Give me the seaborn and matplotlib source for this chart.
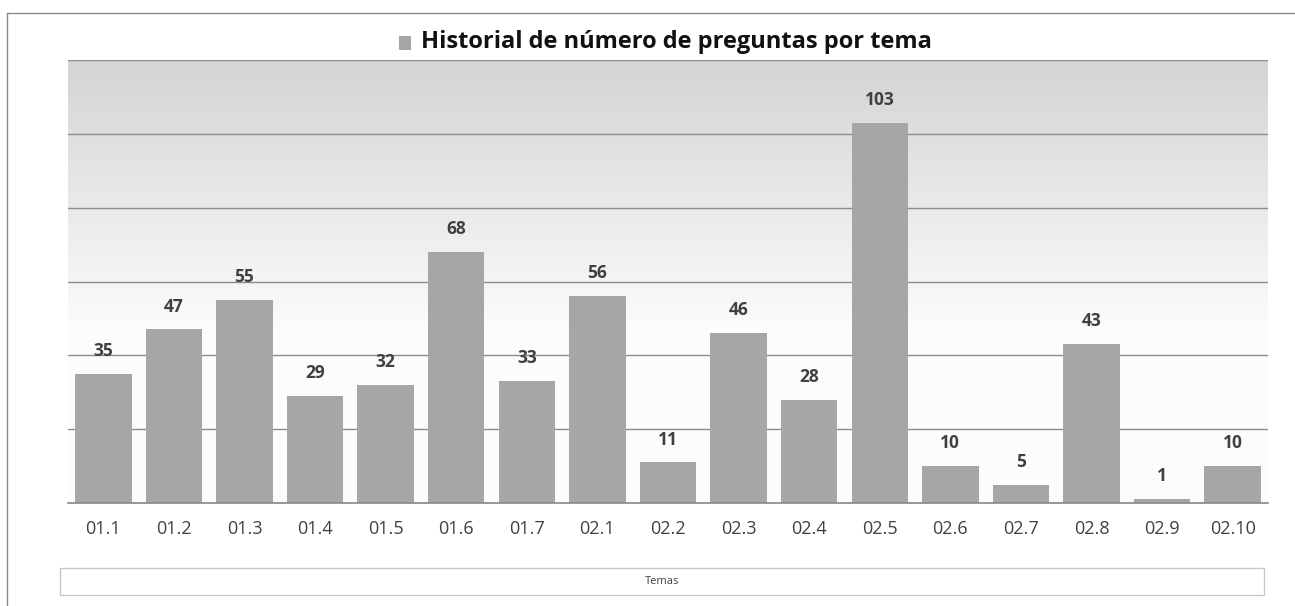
import matplotlib
matplotlib.use("Agg")
import matplotlib.pyplot as plt
import seaborn as sns
import numpy as np
import pandas as pd
from matplotlib.patches import Rectangle
from matplotlib.lines import Line2D

temas = ["01.1", "01.2", "01.3", "01.4", "01.5", "01.6", "01.7", "02.1", "02.2",
         "02.3", "02.4", "02.5", "02.6", "02.7", "02.8", "02.9", "02.10"]
preguntas = [35, 47, 55, 29, 32, 68, 33, 56, 11, 46, 28, 103, 10, 5, 43, 1, 10]
title = "Historial de número de preguntas por tema"
xlabel = "Temas"

sns.set_theme(style="white")
plt.rcParams['font.family'] = ['Open Sans', 'DejaVu Sans']

df = pd.DataFrame({"tema": temas, "n": preguntas})

fig = plt.figure(figsize=(12.95, 6.06), dpi=100)
ax = fig.add_axes([68/1295, 1-503/606, 1200/1295, 443/606])

# gradient background (row 0 = top of plot area)
grad = np.linspace(0, 1, 256).reshape(-1, 1)
top_c, bot_c = 0.83, 0.985
vals = top_c + (bot_c - top_c) * np.clip(grad / 0.6, 0, 1)
vals = np.where(grad > 0.6, 0.99, vals)
img = np.dstack([vals, vals, vals])
ax.imshow(img, extent=[-0.5, len(temas) - 0.5, 0, 120], aspect="auto", zorder=0,
          origin="upper")

sns.barplot(data=df, x="tema", y="n", color="#a6a6a6", saturation=1, width=0.8,
            linewidth=0, ax=ax, zorder=3)
ax.set_xlim(-0.5, len(temas) - 0.5)
ax.set_ylim(0, 120)
ax.set_yticks(range(0, 121, 20))
ax.set_yticklabels([])
ax.yaxis.grid(True, color="#8c8c8c", linewidth=1.0)
ax.set_axisbelow(False)
for gl in ax.get_ygridlines():
    gl.set_zorder(1)
for s in ["left", "right", "top"]:
    ax.spines[s].set_visible(False)
ax.spines["bottom"].set_color("#8c8c8c")
ax.spines["bottom"].set_zorder(4)
ax.tick_params(axis="x", length=0, labelsize=13, colors="#404040", pad=12)
ax.tick_params(axis="y", length=0)
ax.set_xlabel("")
ax.set_ylabel("")

for i, v in enumerate(preguntas):
    ax.annotate(str(v), (i, v), xytext=(0, 10), textcoords="offset points",
                ha="center", va="bottom", fontsize=12.5, fontweight="bold",
                color="#404040")

# title with legend marker
fig.text(421/1295, 1-42/606, title, ha="left", va="center", fontsize=17,
         fontweight="bold", color="#111111")
fig.patches.append(Rectangle((399/1295, 1-50/606), 12/1295, 14/606,
                             transform=fig.transFigure, facecolor="#a6a6a6",
                             edgecolor="none"))

# axis title box
fig.patches.append(Rectangle((60/1295, 1-595/606), 1204/1295, 27/606,
                             transform=fig.transFigure, facecolor="white",
                             edgecolor="#c8c8c8", linewidth=1))
fig.text(662/1295, 1-582/606, xlabel, ha="center", va="center", fontsize=8,
         color="#404040")

# outer frame
fig.add_artist(Line2D([7/1295, 1], [1-13/606, 1-13/606], color="#8a8a8a", lw=1,
                      transform=fig.transFigure))
fig.add_artist(Line2D([7/1295, 7/1295], [0, 1-13/606], color="#8a8a8a", lw=1,
                      transform=fig.transFigure))

fig.savefig("out.png", dpi=100)
